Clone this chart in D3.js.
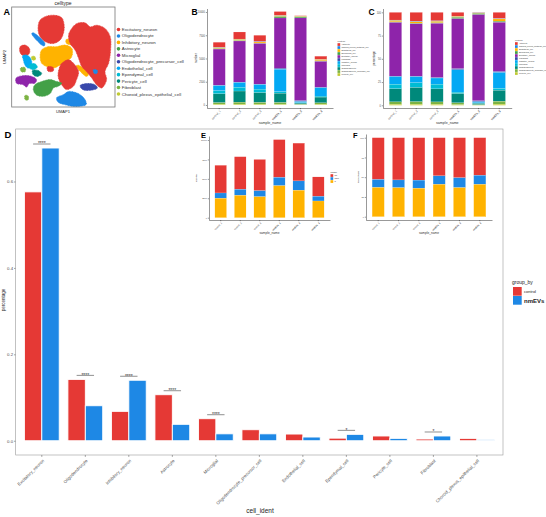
<!DOCTYPE html>
<html>
<head>
<meta charset="utf-8">
<script src="https://cdn.jsdelivr.net/npm/d3@7"></script>
<style>
  body { margin: 0; background: #fff; }
  svg { display: block; font-family: "Liberation Sans", Arial, sans-serif; }
</style>
</head>
<body>
<svg width="546" height="517"></svg>
<script>
// ---- data ----
const samples = ["control_1", "control_2", "control_3", "nmEVs_1", "nmEVs_2", "nmEVs_3"];

// order used in panel A legend and panel D axis
const cellTypes = ["Excitatory_neuron", "Oligodendrocyte", "Inhibitory_neuron", "Astrocyte", "Microglial",
  "Oligodendrocyte_precursor_cell", "Endothelial_cell", "Ependymal_cell", "Pericyte_cell", "Fibroblast",
  "Choroid_plexus_epithelial_cell"];
// alphabetical order used in panels B / C
const cellTypesAbc = ["Astrocyte", "Choroid_plexus_epithelial_cell", "Endothelial_cell", "Ependymal_cell",
  "Excitatory_neuron", "Fibroblast", "Inhibitory_neuron", "Microglial", "Oligodendrocyte",
  "Oligodendrocyte_precursor_cell", "Pericyte_cell"];
const palette = ["#E53935", "#1E88E5", "#FFB300", "#43A047", "#8E24AA", "#3949AB",
  "#03A9F4", "#00BCD4", "#00897B", "#7CB342", "#C0CA33"];

// cell counts per sample (panel B / C)
const astrocyte       = [560, 760, 690, 430, 40, 360];
const choroid         = [35, 45, 40, 25, 20, 15];
const endothelial     = [100, 120, 115, 90, 60, 130];
const ependymal       = [40, 45, 45, 150, 120, 60];
const excitatory      = [3900, 4430, 4380, 5405, 8900, 2780];
const fibroblast      = [30, 30, 30, 110, 90, 50];
const inhibitory      = [560, 520, 500, 2420, 120, 900];
const microglial      = [330, 400, 380, 160, 60, 110];
const oligodendrocyte = [950, 1200, 1050, 1000, 130, 620];
const opc             = [170, 210, 190, 200, 40, 160];
const pericyte        = [75, 90, 80, 60, 20, 65];

// cell-cycle phase counts per sample (panel E / F)
const phases = ["G1", "G2M", "S"];
const g1Counts  = [3570, 4200, 4030, 4860, 4870, 2500];
const g2mCounts = [680, 770, 770, 1070, 1200, 600];
const sCounts   = [2500, 2880, 2700, 4120, 3530, 2150];

// panel D proportions
const groups = ["control", "nmEVs"];
const controlPct = [0.576, 0.142, 0.068, 0.1065, 0.051, 0.0255, 0.0155, 0.006, 0.011, 0.004, 0.0055];
const nmEVsPct   = [0.6775, 0.081, 0.140, 0.038, 0.016, 0.016, 0.0086, 0.0148, 0.0055, 0.011, 0.0023];
const signif     = ["****", "****", "****", "****", "****", "", "", "*", "", "*", ""];

// UMAP cluster outlines (UMAP units)
const umapClusters = [
  ["Inhibitory_neuron", [[-5.4,1.7],[-3.8,2.5],[-1.7,2.5],[0.4,2.9],[2.1,2.1],[2.1,0],[0.8,-1.3],[-0.8,-2.1],[-2.5,-2.9],[-4.2,-2.5],[-5.4,-1.7],[-5.8,0]]],
  ["Inhibitory_neuron", [[3.2,-2.3],[3.8,-2.2],[6.3,-4.3],[5.8,-5]]],
  ["Inhibitory_neuron", [[0.7,4.3],[2.9,3.8],[2.7,3.1],[0.8,3.3]]],
  ["Excitatory_neuron", [[-5.8,9.2],[-4.2,10.2],[-2.1,10.4],[-0.4,9.8],[0.2,7.9],[0,5.8],[-0.8,4.2],[-2.5,3.3],[-4.6,3.8],[-6,5.4],[-6.3,7.5]]],
  ["Excitatory_neuron", [[2.1,7.1],[3.3,8.3],[5.4,8.5],[6.7,7.5],[8.3,7.9],[10.4,7.1],[11.7,5],[11.8,1.7],[11.3,-1.7],[10.4,-3.8],[10.8,-5.8],[9.6,-7.9],[8.3,-7.1],[7.1,-5.4],[5.8,-3.8],[4.6,-2.5],[3.8,-0.4],[2.9,1.7],[1.7,3.3],[1.3,5.4]]],
  ["Excitatory_neuron", [[-0.4,-1.7],[1.3,-0.8],[2.9,-2.1],[3.8,-3.8],[3.3,-5.8],[2.5,-7.5],[0.8,-8.3],[-0.4,-7.1],[-1.3,-5],[-1,-2.9]]],
  ["Excitatory_neuron", [[-10.8,2.5],[-9.6,2.9],[-8.5,2.1],[-8.5,0.8],[-9.6,0.2],[-10.7,0.8]]],
  ["Excitatory_neuron", [[-4,-2.6],[-2.6,-2.7],[-2.5,-3.6],[-3.8,-3.7]]],
  ["Oligodendrocyte", [[-1.7,-10.4],[0,-9.6],[1.3,-8.8],[2.9,-9],[4.2,-9.6],[5.4,-10.8],[5.7,-12.1],[4.2,-12.5],[2.1,-12.5],[0.4,-12.1],[-1.3,-11.5]]],
  ["Oligodendrocyte", [[-7.9,5.8],[-7.5,6],[-4.6,3.3],[-4.8,2.7],[-5.4,2.9]]],
  ["Oligodendrocyte", [[7.5,-3.3],[8.5,-3.5],[8.3,-4.3],[7.7,-4.2]]],
  ["Astrocyte", [[-7.1,-7.1],[-5.4,-6.3],[-3.3,-5.8],[-1.7,-6.3],[-0.4,-6.7],[-1.3,-7.5],[-2.5,-7.9],[-3.3,-9.3],[-5,-10],[-6.8,-9.6],[-7.5,-8.3]]],
  ["Microglial", [[-11.8,-5.4],[-10,-4.8],[-7.9,-5],[-6.7,-5.8],[-7.1,-6.7],[-8.5,-6.8],[-9.2,-7.7],[-10,-7.1],[-11.7,-6.7]]],
  ["Oligodendrocyte_precursor_cell", [[4.2,-7.3],[5.8,-6.8],[7.9,-7.1],[8.5,-7.9],[6.7,-8.5],[4.8,-8.3]]],
  ["Endothelial_cell", [[-10.2,0.2],[-9.2,0.4],[-8.2,-0.4],[-7.9,-2.1],[-8.8,-2.9],[-9.6,-2.1],[-10,-0.8]]],
  ["Ependymal_cell", [[-8.5,-2.1],[-7.1,-1.8],[-6.5,-2.7],[-7.5,-3.3],[-8.5,-2.9]]],
  ["Pericyte_cell", [[-7.7,-3.5],[-6.3,-3.5],[-5.4,-4.3],[-6.5,-5],[-7.5,-4.6]]],
  ["Fibroblast", [[-10.7,-2.9],[-9.6,-2.75],[-9.5,-3.75],[-10.5,-3.8]]],
  ["Fibroblast", [[-9.6,-9.8],[-8.8,-9.9],[-8.8,-10.9],[-9.5,-10.9]]],
  ["Choroid_plexus_epithelial_cell", [[-7.9,0],[-7.1,0],[-7,-0.8],[-7.8,-0.8]]]
];

// ---- setup ----
const svg = d3.select("svg");
svg.append("rect").attr("width", 546).attr("height", 517).attr("fill", "#fff");

const colorA = d3.scaleOrdinal().domain(cellTypes).range(palette);
const colorAbc = d3.scaleOrdinal().domain(cellTypesAbc).range(palette);
const colorPhase = d3.scaleOrdinal().domain(phases).range(palette.slice(0, 3));
const colorGroup = d3.scaleOrdinal().domain(groups).range(["#E53935", "#1E88E5"]);

function panelLabel(t, x, y, size) {
  svg.append("text").attr("x", x).attr("y", y).attr("font-size", size)
    .attr("font-weight", "bold").attr("fill", "#000").text(t);
}
function styleAxis(sel, fs) {
  sel.selectAll("path, line").attr("stroke", "#333").attr("stroke-width", 0.5);
  sel.selectAll("text").attr("font-size", fs).attr("fill", "#4d4d4d");
}

// ---- panel A : UMAP ----
const ax = d3.scaleLinear().domain([-12.9, 12.9]).range([11.7, 115]);
const ay = d3.scaleLinear().domain([-12.7, 12.5]).range([107, 7]);
svg.append("clipPath").attr("id", "clipA").append("rect")
  .attr("x", 11.7).attr("y", 7).attr("width", 103.3).attr("height", 100);
const blob = d3.line().x(d => ax(d[0])).y(d => ay(d[1])).curve(d3.curveCatmullRomClosed.alpha(0.5));
svg.append("g").attr("clip-path", "url(#clipA)")
  .selectAll("path").data(umapClusters).join("path")
  .attr("d", d => blob(d[1]))
  .attr("fill", d => colorA(d[0]))
  .attr("stroke", d => colorA(d[0])).attr("stroke-width", 0.8)
  .attr("stroke-dasharray", "1 0.6");
svg.append("rect").attr("x", 11.7).attr("y", 7).attr("width", 103.3).attr("height", 100)
  .attr("fill", "none").attr("stroke", "#777").attr("stroke-width", 0.8);
svg.append("text").attr("x", 63).attr("y", 5).attr("text-anchor", "middle")
  .attr("font-size", 5).attr("fill", "#222").text("celltype");
svg.append("text").attr("x", 63).attr("y", 112.5).attr("text-anchor", "middle")
  .attr("font-size", 4).attr("fill", "#222").text("UMAP1");
svg.append("text").attr("transform", "translate(6,57) rotate(-90)").attr("text-anchor", "middle")
  .attr("font-size", 4).attr("fill", "#222").text("UMAP2");
const legA = svg.append("g").selectAll("g").data(cellTypes).join("g")
  .attr("transform", (d, i) => `translate(118.5,${29.5 + i * 6.45})`);
legA.append("circle").attr("r", 1.8).attr("fill", d => colorA(d));
legA.append("text").attr("x", 3.3).attr("dy", "0.35em").attr("font-size", 4.4)
  .attr("fill", "#333").text(d => d);
panelLabel("A", 3.5, 15, 9);

// ---- stacked bar panels ----
function stackPanel(o) {
  const g = svg.append("g");
  const x = d3.scaleBand().domain(samples).range(o.xr).paddingInner(0.4).paddingOuter(0.3);
  const y = d3.scaleLinear().domain(o.yd).range([o.yBottom, o.yTop]);
  const series = d3.stack().keys(o.keys).order(d3.stackOrderReverse)
    .offset(o.expand ? d3.stackOffsetExpand : d3.stackOffsetNone)(o.rows);
  g.selectAll("g.layer").data(series).join("g").attr("class", "layer")
    .attr("fill", d => o.color(d.key))
    .selectAll("rect").data(d => d).join("rect")
    .attr("x", d => x(d.data.sample)).attr("width", x.bandwidth())
    .attr("y", d => y(d[1])).attr("height", d => Math.max(0, y(d[0]) - y(d[1])))
    .attr("stroke", "#fff").attr("stroke-width", 0.15);
  const ya = g.append("g").attr("transform", `translate(${o.xr[0]},0)`)
    .call(d3.axisLeft(y).tickValues(o.ticks).tickFormat(o.fmt).tickSize(1.2).tickSizeOuter(0).tickPadding(0.8));
  styleAxis(ya, o.tickFs);
  const xa = g.append("g").attr("transform", `translate(0,${o.yBottom})`)
    .call(d3.axisBottom(x).tickSize(1.2).tickSizeOuter(0));
  styleAxis(xa, o.tickFs + 0.2);
  xa.selectAll("text").attr("y", 0).attr("dy", "0.35em").attr("text-anchor", "end")
    .attr("transform", "translate(1,2.8) rotate(-45)")
    .attr("font-weight", d => d.startsWith("nmEVs") ? "bold" : "normal");
  g.append("text").attr("transform", `translate(${o.yLabelX},${(o.yTop + o.yBottom) / 2}) rotate(-90)`)
    .attr("text-anchor", "middle").attr("font-size", o.tickFs + 0.3).attr("fill", "#333").text(o.yLabel);
  g.append("text").attr("x", (o.xr[0] + o.xr[1]) / 2).attr("y", o.xLabelY)
    .attr("text-anchor", "middle").attr("font-size", o.tickFs + 1).attr("fill", "#333").text("sample_name");
  if (o.legend) {
    const L = o.legend;
    g.append("text").attr("x", L.x).attr("y", L.y).attr("font-size", L.fs + 0.3).attr("fill", "#333").text(L.title);
    const it = g.append("g").selectAll("g").data(o.keys).join("g")
      .attr("transform", (d, i) => `translate(${L.x},${L.y + 1.2 + i * L.step})`);
    it.append("rect").attr("width", L.step - 0.3).attr("height", L.step - 0.3).attr("fill", d => o.color(d));
    it.append("text").attr("x", L.step + 1).attr("y", L.step / 2).attr("dy", "0.35em")
      .attr("font-size", L.fs).attr("fill", "#333").text(d => d);
  }
}

const cellRows = samples.map((s, i) => {
  const r = { sample: s };
  [astrocyte, choroid, endothelial, ependymal, excitatory, fibroblast, inhibitory,
   microglial, oligodendrocyte, opc, pericyte].forEach((arr, k) => { r[cellTypesAbc[k]] = arr[i]; });
  return r;
});
const phaseRows = samples.map((s, i) => ({ sample: s, G1: g1Counts[i], G2M: g2mCounts[i], S: sCounts[i] }));

// B
stackPanel({ keys: cellTypesAbc, rows: cellRows, color: colorAbc, xr: [207, 333],
  yd: [-323, 10376], yBottom: 108, yTop: 8.5, ticks: [0, 2500, 5000, 7500, 10000], fmt: d3.format("d"),
  tickFs: 2.6, yLabel: "number", yLabelX: 196.5, xLabelY: 124,
  legend: { x: 337.5, y: 42, step: 3, fs: 2, title: "celltype" } });
panelLabel("B", 191.5, 15, 8.5);

// C
stackPanel({ keys: cellTypesAbc, rows: cellRows, color: colorAbc, xr: [383, 511.7], expand: true,
  yd: [-0.029, 1.0413], yBottom: 108, yTop: 8.5, ticks: [0, 0.25, 0.5, 0.75, 1], fmt: d => d * 100,
  tickFs: 2.6, yLabel: "percentage", yLabelX: 374.5, xLabelY: 124,
  legend: { x: 515, y: 41, step: 3, fs: 2, title: "celltype" } });
panelLabel("C", 368.5, 15, 8.5);

// ---- panel D ----
const dx = d3.scaleBand().domain(cellTypes).range([15.7, 503]).paddingInner(0.2).paddingOuter(0.2);
const dsub = d3.scaleBand().domain(groups).range([0, dx.bandwidth()]);
const dy = d3.scaleLinear().domain([-0.033, 0.7215]).range([455, 129]);
const dRows = cellTypes.map((c, i) => ({ cell: c, control: controlPct[i], nmEVs: nmEVsPct[i], sig: signif[i] }));

const gD = svg.append("g");
gD.selectAll("g.cat").data(dRows).join("g").attr("class", "cat")
  .attr("transform", d => `translate(${dx(d.cell)},0)`)
  .selectAll("rect").data(d => groups.map(k => ({ key: k, value: d[k] }))).join("rect")
  .attr("x", d => dsub(d.key)).attr("width", dsub.bandwidth())
  .attr("y", d => dy(d.value)).attr("height", d => dy(0) - dy(d.value))
  .attr("fill", d => colorGroup(d.key)).attr("stroke", "#fff").attr("stroke-width", 0.9);

const sigRows = dRows.filter(d => d.sig);
const sigG = gD.selectAll("g.sig").data(sigRows).join("g").attr("class", "sig")
  .attr("transform", d => `translate(${dx(d.cell)},${dy(Math.max(d.control, d.nmEVs)) - 4})`);
sigG.append("line").attr("x1", dsub("control") + dsub.bandwidth() / 2)
  .attr("x2", dsub("nmEVs") + dsub.bandwidth() / 2)
  .attr("stroke", "#444").attr("stroke-width", 0.6);
sigG.append("text").attr("x", dx.bandwidth() / 2).attr("y", 1.3).attr("text-anchor", "middle")
  .attr("font-size", 5).attr("fill", "#333").text(d => d.sig);

svg.append("rect").attr("x", 15.7).attr("y", 129).attr("width", 487.3).attr("height", 326)
  .attr("fill", "none").attr("stroke", "#999").attr("stroke-width", 0.6);
const dYA = gD.append("g").attr("transform", "translate(15.7,0)")
  .call(d3.axisLeft(dy).tickValues([0, 0.2, 0.4, 0.6]).tickFormat(d3.format(".1f")).tickSize(1.6).tickSizeOuter(0).tickPadding(1));
styleAxis(dYA, 4.3);
dYA.select(".domain").remove();
const dXA = gD.append("g").attr("transform", "translate(0,455)")
  .call(d3.axisBottom(dx).tickSize(1.8).tickSizeOuter(0));
styleAxis(dXA, 4.4);
dXA.select(".domain").remove();
dXA.selectAll("text").attr("y", 0).attr("dy", "0.35em").attr("text-anchor", "end")
  .attr("transform", "translate(1.5,5) rotate(-45)");
svg.append("text").attr("x", 260).attr("y", 513).attr("text-anchor", "middle")
  .attr("font-size", 6.5).attr("fill", "#222").text("cell_ident");
svg.append("text").attr("transform", "translate(5,300) rotate(-90)").attr("text-anchor", "middle")
  .attr("font-size", 4.5).attr("fill", "#222").text("percentage");
panelLabel("D", 4.5, 137.5, 9.5);

// legend D
svg.append("text").attr("x", 512).attr("y", 283.5).attr("font-size", 5).attr("fill", "#222").text("group_by");
const legD = svg.append("g").selectAll("g").data(groups).join("g")
  .attr("transform", (d, i) => `translate(513,${287 + i * 9})`);
legD.append("rect").attr("width", 8.7).attr("height", 8.7).attr("fill", d => colorGroup(d));
legD.append("text").attr("x", 11).attr("y", 4.6).attr("dy", "0.35em")
  .attr("font-size", (d, i) => i ? 6 : 4).attr("font-weight", (d, i) => i ? "bold" : "normal")
  .attr("fill", "#222").text(d => d);

// ---- panels E / F (insets) ----
stackPanel({ keys: phases, rows: phaseRows, color: colorPhase, xr: [209, 330],
  yd: [-296, 10515], yBottom: 220, yTop: 136, ticks: [0, 2500, 5000, 7500, 10000], fmt: d3.format("d"),
  tickFs: 2.2, yLabel: "number", yLabelX: 197, xLabelY: 234,
  legend: { x: 330.5, y: 173, step: 3, fs: 2, title: "Phase" } });
panelLabel("E", 201, 137.5, 7.5);

stackPanel({ keys: phases, rows: phaseRows, color: colorPhase, xr: [366, 492], expand: true,
  yd: [-0.0418, 1.0468], yBottom: 220, yTop: 134, ticks: [0, 0.25, 0.5, 0.75, 1], fmt: d => d * 100,
  tickFs: 2.2, yLabel: "percentage", yLabelX: 359, xLabelY: 234 });
panelLabel("F", 353, 137.5, 7.5);
</script>
</body>
</html>
